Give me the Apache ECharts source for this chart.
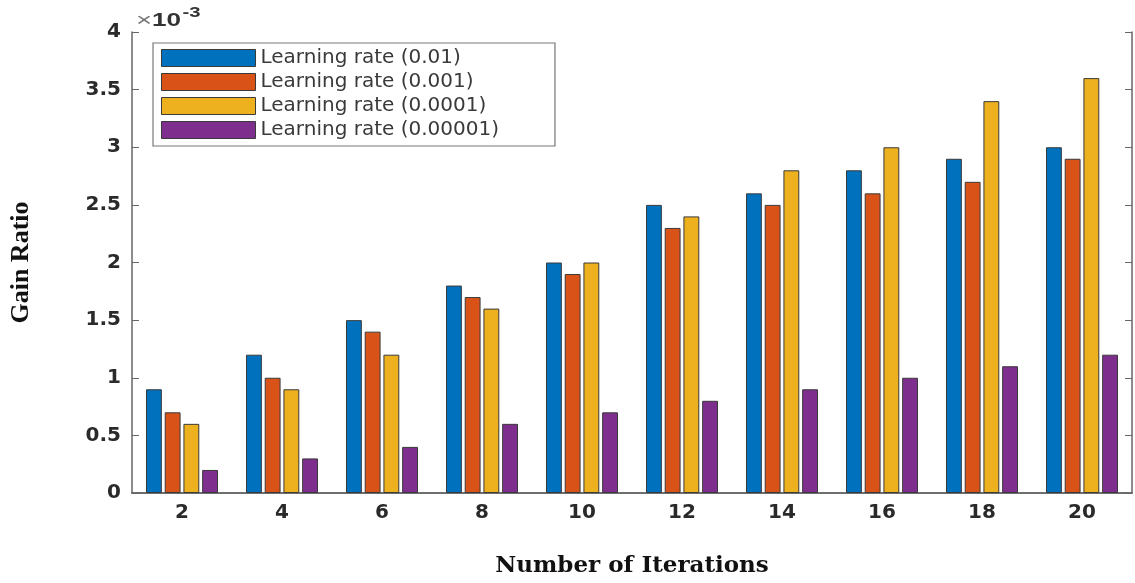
<!DOCTYPE html>
<html>
<head>
<meta charset="utf-8">
<script src="https://cdn.jsdelivr.net/npm/echarts@6/dist/echarts.min.js"></script>
<style>
html,body{margin:0;padding:0;background:#fff;overflow:hidden;}
#chart{width:1135px;height:583px;}
</style>
</head>
<body>
<div id="chart"></div>
<script>
// Values are in units of 10^-3 (the axis shows a ×10^-3 multiplier)
const categories = ['2','4','6','8','10','12','14','16','18','20'];
const seriesNames = ['Learning rate (0.01)','Learning rate (0.001)','Learning rate (0.0001)','Learning rate (0.00001)'];
const lr001     = [0.9, 1.2, 1.5, 1.8, 2.0, 2.5, 2.6, 2.8, 2.9, 3.0];
const lr0001    = [0.7, 1.0, 1.4, 1.7, 1.9, 2.3, 2.5, 2.6, 2.7, 2.9];
const lr00001   = [0.6, 0.9, 1.2, 1.6, 2.0, 2.4, 2.8, 3.0, 3.4, 3.6];
const lr000001  = [0.2, 0.3, 0.4, 0.6, 0.7, 0.8, 0.9, 1.0, 1.1, 1.2];
const yTicks = {min: 0, max: 4, interval: 0.5};

const colors = ['#0072BD','#D95319','#EDB120','#7E2F8E'];
const seriesData = [lr001, lr0001, lr00001, lr000001];

const chart = echarts.init(document.getElementById('chart'));
const axisColor = '#666';
const labelFont = {fontFamily: 'DejaVu Sans, sans-serif', fontWeight: 'bold', fontSize: 20, color: '#2a2a2a'};

chart.setOption({
  animation: false,
  backgroundColor: '#fff',
  color: colors,
  grid: {left: 130, right: 3, top: 32, bottom: 77},
  legend: {
    orient: 'vertical',
    left: 153, top: 43,
    data: seriesNames,
    itemWidth: 94, itemHeight: 17, itemGap: 0,
    padding: [3, 56, 4, 8],
    backgroundColor: '#fff',
    borderColor: '#777', borderWidth: 1.2,
    icon: 'rect',
    itemStyle: {borderColor: '#3a3a3a', borderWidth: 1},
    textStyle: {fontFamily: 'DejaVu Sans, sans-serif', fontSize: 20, color: '#3a3a3a', lineHeight: 24}
  },
  xAxis: [{
    type: 'category', data: categories, position: 'bottom',
    axisLine: {lineStyle: {color: axisColor, width: 1.5}},
    axisTick: {inside: true, alignWithLabel: true, length: 5, lineStyle: {color: '#222', width: 2}},
    axisLabel: Object.assign({margin: 10}, labelFont),
    name: 'Number of Iterations', nameLocation: 'middle', nameGap: 62,
    nameTextStyle: {fontFamily: 'DejaVu Serif, serif', fontWeight: 'bold', fontSize: 23, color: '#111'}
  }, {
    type: 'category', data: categories, position: 'top',
    axisLine: {lineStyle: {color: axisColor, width: 1.5}},
    axisTick: {inside: true, alignWithLabel: true, length: 5, lineStyle: {color: axisColor}},
    axisLabel: {show: false}
  }],
  yAxis: [{
    type: 'value', min: yTicks.min, max: yTicks.max, interval: yTicks.interval, position: 'left',
    splitLine: {show: false},
    axisLine: {show: true, lineStyle: {color: axisColor, width: 1.5}},
    axisTick: {show: true, inside: true, length: 7, lineStyle: {color: axisColor}},
    axisLabel: Object.assign({margin: 11}, labelFont),
    name: 'Gain Ratio', nameLocation: 'middle', nameGap: 98, nameRotate: 90,
    nameTextStyle: {fontFamily: 'Liberation Serif, Times New Roman, serif', fontWeight: 'bold', fontSize: 26, color: '#111'}
  }, {
    type: 'value', min: yTicks.min, max: yTicks.max, interval: yTicks.interval, position: 'right',
    splitLine: {show: false},
    axisLine: {show: true, lineStyle: {color: axisColor, width: 1.5}},
    axisTick: {show: true, inside: true, length: 7, lineStyle: {color: axisColor}},
    axisLabel: {show: false}
  }],
  graphic: [{
    type: 'text', x: 136, y: 6, scaleX: 1.45,
    style: {
      text: '{a|×}{b|10}{c|-3}',
      rich: {
        a: {fontFamily: 'Liberation Sans, Arial, sans-serif', fontSize: 19, fill: '#777', verticalAlign: 'bottom'},
        b: {fontFamily: 'Liberation Sans, Arial, sans-serif', fontSize: 18, fontWeight: 'bold', fill: '#333', verticalAlign: 'bottom'},
        c: {fontFamily: 'Liberation Sans, Arial, sans-serif', fontSize: 14, fontWeight: 'bold', fill: '#333', verticalAlign: 'top', padding: [0,0,10,1]}
      }
    }
  }],
  series: seriesNames.map((name, i) => ({
    name, type: 'bar', data: seriesData[i],
    barGap: '18%', barCategoryGap: '28%',
    itemStyle: {color: colors[i], borderColor: '#3a3a3a', borderWidth: 1}
  }))
});
</script>
</body>
</html>
